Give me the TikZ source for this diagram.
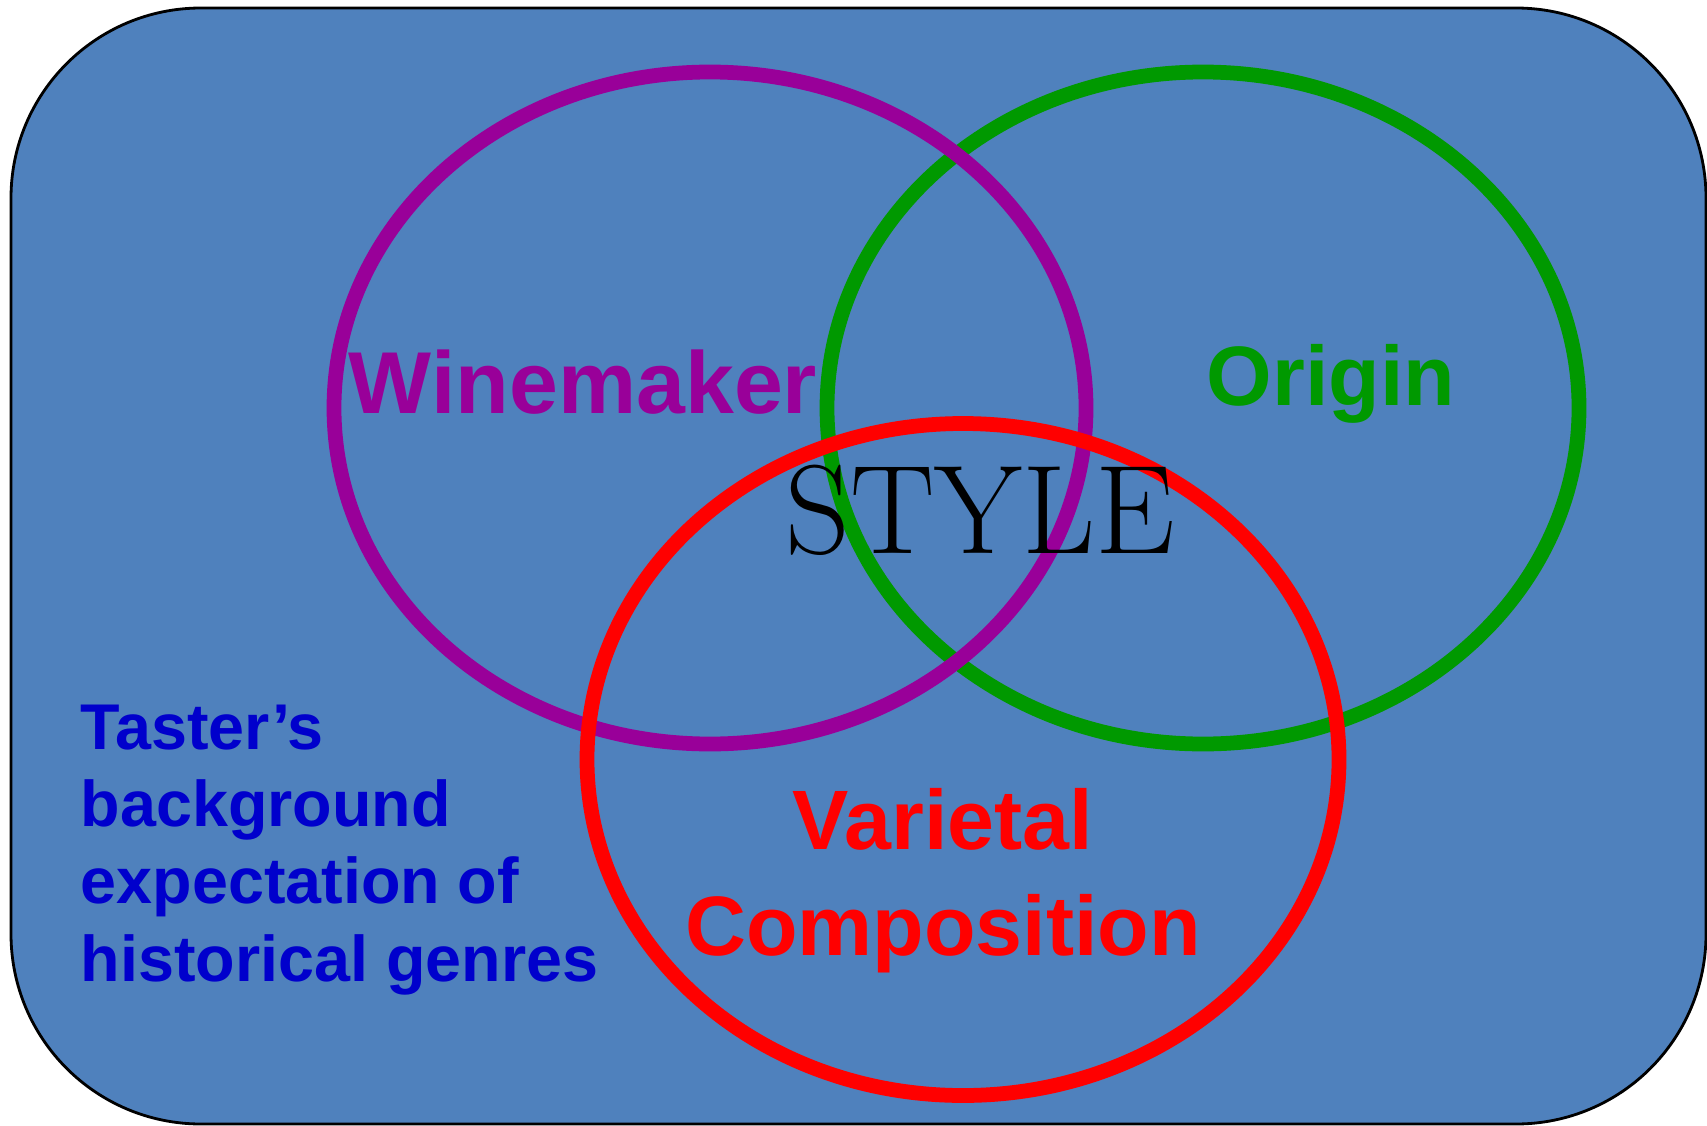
\documentclass[tikz,border=0pt]{standalone}
\usepackage{fontspec}
\newfontfamily\labelfont{Liberation Sans}
\definecolor{slideblue}{RGB}{79, 129, 189}
\definecolor{winepurple}{RGB}{153, 0, 153}
\definecolor{origingreen}{RGB}{0, 153, 0}
\definecolor{tasterblue}{RGB}{0, 0, 204}

\begin{document}
\begin{tikzpicture}[
  ring/.style={line width=4.2pt},
  setlabel/.style={font=\labelfont\bfseries\fontsize{24}{30}\selectfont, inner sep=0pt, align=center}
]
  \useasboundingbox (0,0) rectangle (17.07,11.25);

  \draw[fill=slideblue, line width=0.8pt, rounded corners=1.9cm] (0.11,0.01) rectangle (17.06,11.17);

  \draw[ring, draw=origingreen] (12.03,7.17) ellipse (3.76 and 3.36);
  \draw[ring, draw=winepurple] (7.10,7.17) ellipse (3.76 and 3.36);
  \draw[ring, draw=red] (9.63,3.655) ellipse (3.76 and 3.36);

  \node[setlabel, text=winepurple, anchor=base, font=\labelfont\bfseries\fontsize{25}{30}\selectfont] (winemaker) at (5.83, 7.12) {Winemaker};
  \node[setlabel, text=origingreen, anchor=base] (origin) at (13.31, 7.20) {Origin};
  \node[setlabel, text=red, anchor=base] (varietal) at (9.43, 1.70) {Varietal\\Composition};

  \node[inner sep=0pt, anchor=base, font=\fontsize{36}{42}\selectfont] (style) at (9.80, 5.72) {STYLE};

  \node[inner sep=0pt, anchor=base west, align=left, text=tasterblue,
        font=\labelfont\bfseries\fontsize{18.4}{22}\selectfont] (taster) at (0.80, 1.44) {
    Taster’s\\
    background\\
    expectation of\\
    historical genres
  };
\end{tikzpicture}
\end{document}
